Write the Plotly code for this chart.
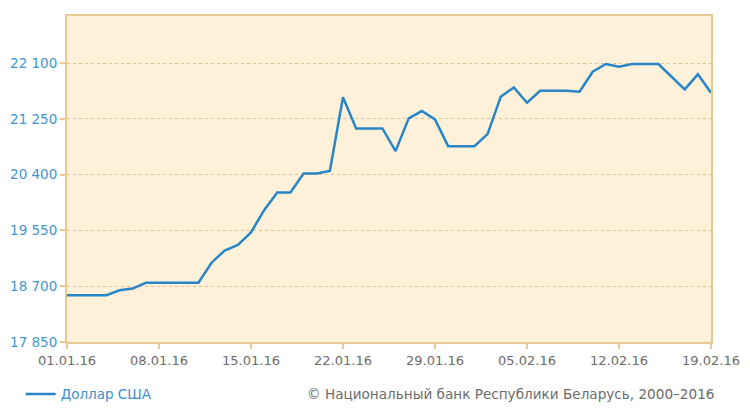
import plotly.graph_objects as go

dates = [
    "2016-01-01", "2016-01-02", "2016-01-03", "2016-01-04", "2016-01-05", "2016-01-06", "2016-01-07",
    "2016-01-08", "2016-01-09", "2016-01-10", "2016-01-11", "2016-01-12", "2016-01-13", "2016-01-14",
    "2016-01-15", "2016-01-16", "2016-01-17", "2016-01-18", "2016-01-19", "2016-01-20", "2016-01-21",
    "2016-01-22", "2016-01-23", "2016-01-24", "2016-01-25", "2016-01-26", "2016-01-27", "2016-01-28",
    "2016-01-29", "2016-01-30", "2016-01-31", "2016-02-01", "2016-02-02", "2016-02-03", "2016-02-04",
    "2016-02-05", "2016-02-06", "2016-02-07", "2016-02-08", "2016-02-09", "2016-02-10", "2016-02-11",
    "2016-02-12", "2016-02-13", "2016-02-14", "2016-02-15", "2016-02-16", "2016-02-17", "2016-02-18",
    "2016-02-19",
]
usd_rate = [
    18563, 18563, 18563, 18563, 18639, 18665, 18753,
    18753, 18753, 18753, 18753, 19059, 19245, 19330,
    19521, 19860, 20130, 20130, 20420, 20420, 20459,
    21580, 21106, 21106, 21106, 20760, 21259, 21371,
    21244, 20836, 20836, 20836, 21020, 21589, 21732,
    21497, 21680, 21680, 21680, 21665, 21970, 22088,
    22047, 22088, 22088, 22088, 21894, 21702, 21931,
    21650,
]
y_ticks = [17850, 18700, 19550, 20400, 21250, 22100]
y_tick_labels = ["17 850", "18 700", "19 550", "20 400", "21 250", "22 100"]
x_ticks = ["2016-01-01", "2016-01-08", "2016-01-15", "2016-01-22", "2016-01-29",
           "2016-02-05", "2016-02-12", "2016-02-19"]
x_tick_labels = ["01.01.16", "08.01.16", "15.01.16", "22.01.16", "29.01.16",
                 "05.02.16", "12.02.16", "19.02.16"]
series_name = "Доллар США"
copyright_text = "© Национальный банк Республики Беларусь, 2000–2016"

FONT = "DejaVu Sans"
LINE_C = "#2985c8"
BORDER_C = "#e9c992"
GRID_C = "#ebbd80"

fig = go.Figure()
fig.add_trace(go.Scatter(
    x=dates, y=usd_rate, mode="lines", name=series_name,
    line=dict(color=LINE_C, width=2.5),
))

# the page body has an 8px default margin, so the figure is sized to the visible area
fig.update_layout(
    width=742, height=409,
    margin=dict(l=59, r=39, t=8, b=75, autoexpand=False),
    paper_bgcolor="#ffffff",
    plot_bgcolor="#fdf2d9",
    showlegend=True,
    legend=dict(
        orientation="h", x=-0.072, xanchor="left", y=-0.16, yanchor="middle",
        font=dict(family=FONT, size=13.5, color="#3a8fd0"),
        bgcolor="rgba(0,0,0,0)",
    ),
    font=dict(family=FONT),
)
fig.update_xaxes(
    type="date",
    range=["2016-01-01", "2016-02-19"],
    tickmode="array", tickvals=x_ticks, ticktext=x_tick_labels,
    tickfont=dict(family=FONT, size=13, color="#6b6b6b"),
    ticks="outside", ticklen=5, tickcolor=BORDER_C, tickwidth=1.5,
    showgrid=False, zeroline=False, automargin=False,
    showline=True, linecolor=BORDER_C, linewidth=2, mirror=True,
)
fig.update_yaxes(
    range=[17850, 22820],
    tickmode="array", tickvals=y_ticks, ticktext=y_tick_labels,
    tickfont=dict(family=FONT, size=13.5, color="#4096d6"),
    ticks="outside", ticklen=5, tickcolor=BORDER_C, tickwidth=1.5,
    showgrid=True, gridcolor=GRID_C, griddash="dot", gridwidth=1.2,
    zeroline=False, automargin=False,
    showline=True, linecolor=BORDER_C, linewidth=2, mirror=True,
)
fig.add_annotation(
    text=copyright_text, xref="paper", yref="paper",
    x=1.0078, y=-0.16, xanchor="right", yanchor="middle", showarrow=False,
    font=dict(family=FONT, size=13.6, color="#6b6b6b"),
)
fig.write_html("out.html")
